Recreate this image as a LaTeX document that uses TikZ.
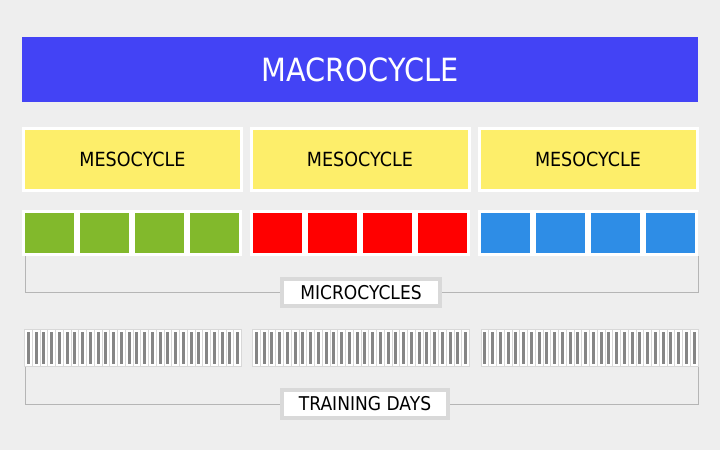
\documentclass[tikz,border=0pt]{standalone}
\usepackage{fontspec}
\newfontfamily\labfont[FakeStretch=0.9]{DejaVu Sans}
\definecolor{bg}{HTML}{EEEEEE}
\definecolor{macroblue}{HTML}{4343F5}
\definecolor{mesoyellow}{HTML}{FDEE6A}
\definecolor{mgreen}{HTML}{82B92C}
\definecolor{mred}{HTML}{FF0000}
\definecolor{mblue}{HTML}{2E8DE6}
\definecolor{bracketgray}{HTML}{B5B5B5}
\definecolor{labelborder}{HTML}{D9D9D9}
\definecolor{daybar}{HTML}{858585}
\definecolor{dayedge}{HTML}{D8D8D8}
\tikzset{
  macrobox/.style={rectangle, fill=macroblue, inner sep=0pt, minimum width=676pt, minimum height=65pt,
    text=white, font=\labfont\fontsize{32}{36}\selectfont},
  mesobox/.style={rectangle, fill=mesoyellow, draw=white, line width=3pt, inner sep=0pt,
    minimum width=218pt, minimum height=62pt, font=\labfont\fontsize{19.5}{23}\selectfont},
  microbox/.style={rectangle, draw=white, line width=3pt, inner sep=0pt,
    minimum width=52pt, minimum height=43pt},
  daycell/.style={rectangle, fill=white, draw=dayedge, line width=0.7pt, inner sep=0pt,
    minimum width=7.75pt, minimum height=37pt},
  daybarstyle/.style={rectangle, fill=daybar, inner sep=0pt, minimum width=2.8pt, minimum height=32pt},
  labelbox/.style={rectangle, fill=white, draw=labelborder, line width=4pt, inner sep=0pt,
    font=\labfont\fontsize{19}{23}\selectfont},
  bracket/.style={draw=bracketgray, line width=1pt}
}
\begin{document}
\begin{tikzpicture}[x=1pt,y=-1pt]
\fill[bg] (0,0) rectangle (720,450);
\useasboundingbox (0,0) rectangle (720,450);

\node[macrobox] (macro) at (360,69.5) {MACROCYCLE};

\node[mesobox] (meso1) at (132.5,159.5) {MESOCYCLE};
\node[mesobox] (meso2) at (360,159.5) {MESOCYCLE};
\node[mesobox] (meso3) at (588,159.5) {MESOCYCLE};

\foreach \g/\xo/\col in {1/22/mgreen, 2/250/mred, 3/478/mblue}{
  \foreach \i in {1,...,4}{
    \node[microbox, fill=\col] (micro\g-\i) at ({\xo+27.5+55*(\i-1)},232.5) {};
  }
}

\foreach \g/\xo in {1/24.5, 2/252.5, 3/481}{
  \foreach \i in {1,...,28}{
    \node[daycell] (day\g-\i) at ({\xo+3.875+7.75*(\i-1)},348) {};
    \node[daybarstyle] (bar\g-\i) at (day\g-\i.center) {};
  }
}

\node[labelbox, minimum width=158pt, minimum height=27pt] (micro) at (361,292.5) {MICROCYCLES};
\node[labelbox, minimum width=166pt, minimum height=28pt] (train) at (365,404) {TRAINING DAYS};

\coordinate (mtl) at (25,256);
\coordinate (mbl) at (25,292.5);
\coordinate (mtr) at (698,256);
\coordinate (mbr) at (698,292.5);
\draw[bracket] (mtl) -- (mbl) -- (micro.west);
\draw[bracket] (micro.east) -- (mbr) -- (mtr);

\coordinate (ttl) at (25,367);
\coordinate (tbl) at (25,404);
\coordinate (ttr) at (698.5,367);
\coordinate (tbr) at (698.5,404);
\draw[bracket] (ttl) -- (tbl) -- (train.west);
\draw[bracket] (train.east) -- (tbr) -- (ttr);
\end{tikzpicture}
\end{document}
